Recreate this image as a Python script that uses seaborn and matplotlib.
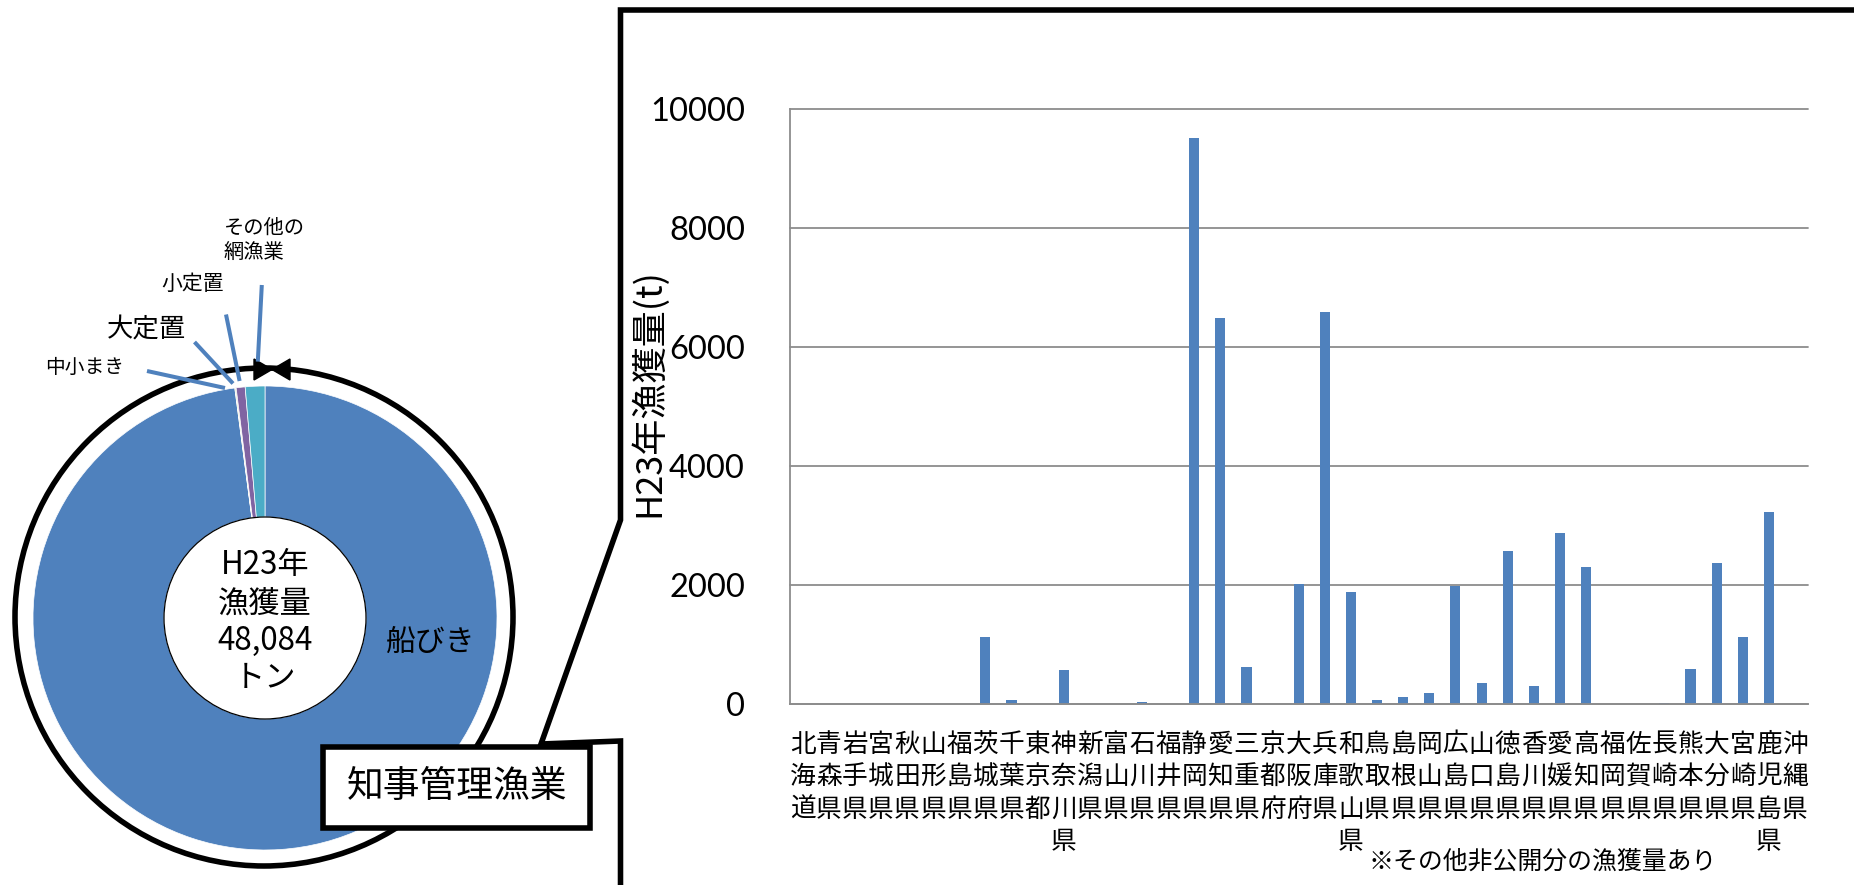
import matplotlib
matplotlib.use("Agg")
import matplotlib.pyplot as plt
from matplotlib.patches import Circle, Rectangle, Polygon
from matplotlib.lines import Line2D
import numpy as np
import pandas as pd
import seaborn as sns

# H23 catch of the governor-licensed fisheries, by prefecture (t)
prefectures = ["北海道", "青森県", "岩手県", "宮城県", "秋田県", "山形県", "福島県",
               "茨城県", "千葉県", "東京都", "神奈川県", "新潟県", "富山県", "石川県",
               "福井県", "静岡県", "愛知県", "三重県", "京都府", "大阪府", "兵庫県",
               "和歌山県", "鳥取県", "島根県", "岡山県", "広島県", "山口県", "徳島県",
               "香川県", "愛媛県", "高知県", "福岡県", "佐賀県", "長崎県", "熊本県",
               "大分県", "宮崎県", "鹿児島県", "沖縄県"]
catch_t = [0, 0, 0, 0, 0, 0, 0,
           1130, 70, 0, 575, 0, 0, 25,
           0, 9520, 6485, 625, 0, 2015, 6590,
           1875, 70, 115, 185, 1975, 350, 2570,
           300, 2865, 2300, 0, 0, 10, 580,
           2360, 1125, 3225, 0]
y_ticks = [0, 2000, 4000, 6000, 8000, 10000]

# H23 catch by fishing method (t)
methods = ["船びき", "中小まき", "大定置", "小定置", "その他の網漁業"]
method_catch = [47084, 15, 30, 300, 655]
method_labels = ["船びき", "中小まき", "大定置", "小定置", "その他の\n網漁業"]

W, H = 1854, 885
JP = ["Noto Sans CJK JP", "DejaVu Sans"]
NUM = ["Lato", "Noto Sans CJK JP"]
BLUE = "#4F81BD"
PIE_COLORS = ["#4F81BD", "#C0504D", "#9BBB59", "#8064A2", "#4BACC6"]
GRID = "#8C8C8C"

sns.set_theme(style="white")
plt.rcParams["font.family"] = JP
plt.rcParams["axes.unicode_minus"] = False

fig = plt.figure(figsize=(W / 100, H / 100), dpi=100)
fig.patch.set_facecolor("white")


def Y(y):
    """top-down pixel row -> overlay y coordinate"""
    return H - y


# ---------- overlay: donut, callout frame, annotations (pixel units) ----------
ov = fig.add_axes([0, 0, 1, 1], zorder=0)
cx, cy, r_out, r_in = 265, 618, 232, 101
ov.pie(method_catch, colors=PIE_COLORS, startangle=90, counterclock=False,
       radius=r_out, center=(cx, Y(cy)), frame=True,
       wedgeprops=dict(width=r_out - r_in, edgecolor="white", linewidth=0.5))
ov.set_xlim(0, W)
ov.set_ylim(0, H)
ov.set_aspect("auto")
ov.axis("off")

# donut hole outline
ov.add_patch(Circle((cx, Y(cy)), r_in, facecolor="white", edgecolor="black", lw=0.9, zorder=3))

# surrounding ring with the two arrow heads at the top
ov.add_patch(Circle((264, Y(617)), 249, fill=False, edgecolor="black", lw=4, zorder=2))
ov.add_patch(Polygon([(254, Y(359)), (254, Y(380)), (272, Y(369.5))], closed=True,
                     facecolor="black", edgecolor="black", lw=1, zorder=4))
ov.add_patch(Polygon([(290, Y(359)), (290, Y(380)), (272, Y(369.5))], closed=True,
                     facecolor="black", edgecolor="black", lw=1, zorder=4))

# centre text
total_label = f"{sum(method_catch):,}"
for txt, yy in zip(["H23年", "漁獲量", total_label, "トン"], [565, 604, 641, 678]):
    ov.text(cx, Y(yy), txt, ha="center", va="center", fontsize=22.5, family=JP,
            color="black", zorder=5)

# slice labels and leader lines
ov.text(431, Y(642), method_labels[0], ha="center", va="center", fontsize=21.5,
        family=JP, color="black", zorder=5)
label_specs = {
    1: dict(xy=(85, 367), size=14.2, ha="center", line=((147, 371), (225, 388))),
    2: dict(xy=(146, 330), size=19, ha="center", line=((194.5, 342), (233, 383.5))),
    3: dict(xy=(193, 284), size=15, ha="center", line=((226, 314.5), (239.6, 381))),
    4: dict(xy=(224, 241), size=14.6, ha="left", line=((261.8, 285), (257.8, 361.6))),
}
for i, spec in label_specs.items():
    x, y = spec["xy"]
    ov.text(x, Y(y), method_labels[i], ha=spec["ha"], va="center", fontsize=spec["size"],
            family=JP, color="black", linespacing=1.3, multialignment="left", zorder=5)
    (x1, y1), (x2, y2) = spec["line"]
    ov.add_line(Line2D([x1, x2], [Y(y1), Y(y2)], color=BLUE, lw=2.9,
                       solid_capstyle="butt", zorder=4))

# callout frame around the prefecture chart
fx = 620.5
ov.add_line(Line2D([W + 10, fx, fx, 541, fx, fx, W + 10],
                   [Y(10), Y(10), Y(520), Y(744), Y(741), Y(887.5), Y(887.5)],
                   color="black", lw=4, solid_joinstyle="miter", zorder=6))

# title box
ov.add_patch(Rectangle((323.5, Y(828)), 590 - 323.5, 828 - 747, facecolor="white",
                       edgecolor="black", lw=4, zorder=7))
ov.text(457, Y(787), "知事管理漁業", ha="center", va="center", fontsize=26.5,
        family=JP, color="black", zorder=8)

# ---------- bar chart by prefecture ----------
x0, x1, y_top, y_bot = 789.5, 1808, 109.3, 703.8
ax = fig.add_axes([x0 / W, (H - y_bot) / H, (x1 - x0) / W, (y_bot - y_top) / H], zorder=1)
ax.patch.set_alpha(0)
df = pd.DataFrame({"prefecture": prefectures, "catch": catch_t})
sns.barplot(data=df, x="prefecture", y="catch", order=prefectures, color=BLUE,
            saturation=1, width=0.385, edgecolor="none", ax=ax)

ax.set_xlim(-0.5, len(prefectures) - 0.5)
ax.set_ylim(0, 10000)
ax.set_yticks(y_ticks)
ax.set_yticklabels([str(v) for v in y_ticks], family=NUM, fontsize=23.5, color="black")
ax.set_xticks(range(len(prefectures)))
xlabels = ax.set_xticklabels(["\n".join(p) for p in prefectures], family=JP,
                             fontsize=18.5, color="black", va="top")
for t in xlabels:
    t.set_linespacing(1.33)
ax.set_xticks(np.arange(-0.5, len(prefectures), 1.0), minor=True)
ax.tick_params(axis="x", which="major", length=0, pad=20)
ax.tick_params(axis="x", which="minor", direction="out", length=6.8, width=1.3, color=GRID)
ax.tick_params(axis="y", which="major", direction="out", length=8.6, width=1.3,
               color=GRID, pad=23.5)

ax.yaxis.grid(True, color=GRID, lw=1.3)
ax.xaxis.grid(False)
ax.set_axisbelow(True)
for gl in ax.get_ygridlines():
    gl.set_clip_on(False)
for side in ("top", "right"):
    ax.spines[side].set_visible(False)
for side in ("left", "bottom"):
    ax.spines[side].set_color(GRID)
    ax.spines[side].set_linewidth(1.3)

ax.set_xlabel("")
ax.set_ylabel("H23年漁獲量(t)", family=JP, fontsize=26, color="black")
ax.yaxis.set_label_coords((667 - x0) / (x1 - x0), (y_bot - 393) / (y_bot - y_top))

fig.text(1368 / W, (H - 862) / H, "※その他非公開分の漁獲量あり", ha="left", va="center",
         fontsize=17.9, family=JP, color="black")

fig.savefig("out.png", dpi=100, facecolor="white")
